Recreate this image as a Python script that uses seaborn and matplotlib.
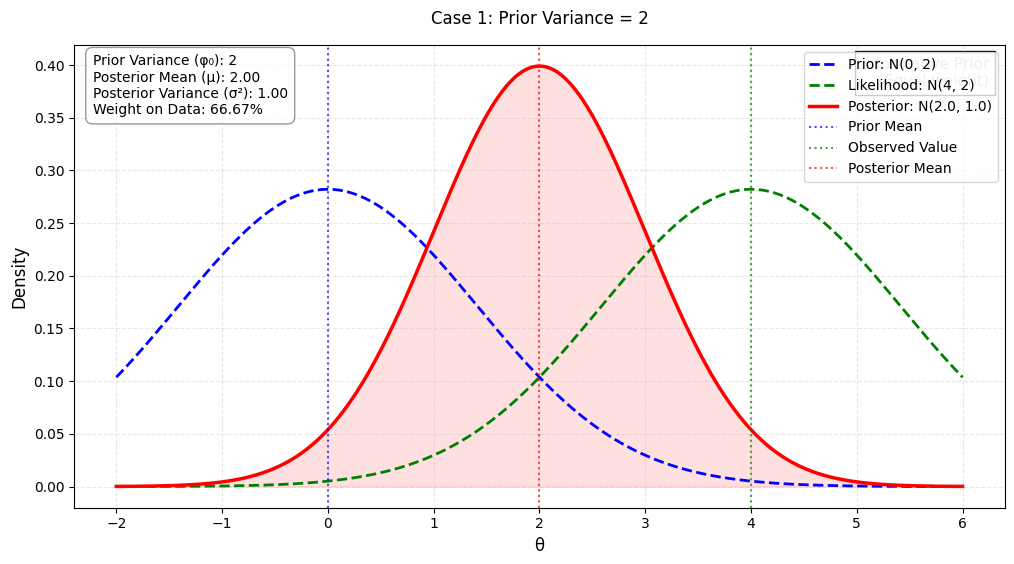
import numpy as np
import matplotlib
matplotlib.use("Agg")
import matplotlib.pyplot as plt
import seaborn as sns
import pandas as pd

# parameters of the three normal curves (mean, variance)
prior_mean, prior_var = 0, 2
obs_value, lik_var = 4, 2
post_mean, post_var = 2.0, 1.0
weight_on_data = 66.67

theta = np.linspace(-2, 6, 400)

def npdf(x, m, v):
    return np.exp(-(x - m) ** 2 / (2 * v)) / np.sqrt(2 * np.pi * v)

df = pd.DataFrame({
    "theta": theta,
    "prior": npdf(theta, prior_mean, prior_var),
    "lik": npdf(theta, obs_value, lik_var),
    "post": npdf(theta, post_mean, post_var),
})

fig, ax = plt.subplots(figsize=(10.14, 5.64), dpi=100)
sns.lineplot(data=df, x="theta", y="prior", ax=ax, color="blue", linestyle="--", linewidth=2,
             label=f"Prior: N({prior_mean}, {prior_var})")
sns.lineplot(data=df, x="theta", y="lik", ax=ax, color="green", linestyle="--", linewidth=2,
             label=f"Likelihood: N({obs_value}, {lik_var})")
sns.lineplot(data=df, x="theta", y="post", ax=ax, color="red", linewidth=2.5,
             label=f"Posterior: N({post_mean}, {post_var})")
ax.fill_between(df["theta"], df["post"], color="red", alpha=0.12)
ax.axvline(prior_mean, color="blue", linestyle=":", alpha=0.7, label="Prior Mean")
ax.axvline(obs_value, color="green", linestyle=":", alpha=0.7, label="Observed Value")
ax.axvline(post_mean, color="red", linestyle=":", alpha=0.7, label="Posterior Mean")

ax.text(0.983, 0.975, "Informative Prior\n(Equal weight)", transform=ax.transAxes, ha="right", va="top",
        fontsize=11, color="#b0b0b0", zorder=1,
        bbox=dict(facecolor="white", edgecolor="black", pad=4))
ax.legend(loc="upper right").set_zorder(5)
ax.text(0.02, 0.98,
        f"Prior Variance (φ₀): {prior_var}\nPosterior Mean (μ): {post_mean:.2f}\n"
        f"Posterior Variance (σ²): {post_var:.2f}\nWeight on Data: {weight_on_data:.2f}%",
        transform=ax.transAxes, ha="left", va="top", fontsize=10,
        bbox=dict(boxstyle="round,pad=0.5", facecolor="white", alpha=0.8, edgecolor="gray"))

ax.set_title("Case 1: Prior Variance = 2", pad=15)
ax.set_xlabel("θ", fontsize=12)
ax.set_ylabel("Density", fontsize=12)
ax.grid(True, linestyle="--", alpha=0.3)
fig.subplots_adjust(left=0.073, right=0.991, top=0.92, bottom=0.1)
fig.savefig("out.png", dpi=100)
